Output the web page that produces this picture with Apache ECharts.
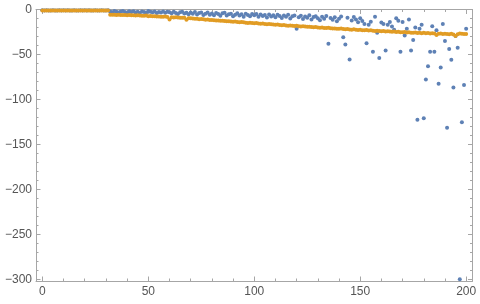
<!DOCTYPE html>
<html>
<head>
<meta charset="utf-8">
<script src="https://cdn.jsdelivr.net/npm/echarts@6/dist/echarts.min.js"></script>
<style>html,body{margin:0;padding:0;background:#fff}#c{width:480px;height:304px}</style>
</head>
<body>
<div id="c"></div>
<script>
const xStart = 0;
const blueY = [
-0.9,-1.0,-0.9,-1.0,-1.0,-0.9,-1.0,-1.0,-0.9,-1.0,
-0.9,-1.0,-0.9,-1.0,-1.0,-0.9,-1.0,-1.0,-0.9,-1.0,
-0.9,-1.0,-0.9,-1.0,-1.0,-0.9,-1.0,-1.0,-0.9,-1.0,
-1.0,-0.9,-2.1,-3.0,-1.8,-2.6,-3.4,-2.2,-1.6,-2.9,
-3.6,-2.0,-2.7,-1.9,-3.2,-2.4,-3.8,-2.1,-2.8,-3.5,
-1.7,-2.6,-3.1,-2.3,-4.0,-2.9,-3.3,-2.2,-3.7,-2.5,
-3.0,-4.2,-2.6,-3.8,-4.9,-3.1,-2.4,-4.4,-3.6,-5.2,
-3.3,-4.6,-2.9,-5.5,-4.0,-3.4,-6.1,-4.7,-3.2,-5.8,
-4.5,-6.3,-3.9,-5.1,-7.0,-4.3,-3.6,-6.6,-5.4,-4.8,
-7.4,-5.9,-4.1,-6.8,-5.2,-8.0,-4.6,-6.2,-7.6,-5.0,
-6.5,-4.9,-8.2,-5.7,-7.1,-6.0,-9.0,-5.5,-7.8,-6.4,
-8.5,-5.8,-7.3,-9.4,-6.7,-8.0,-5.9,-10.1,-7.5,-6.8,
-21.5,-8.7,-6.9,-10.6,-7.7,-9.2,-6.4,-11.0,-8.3,-7.4,
-9.8,-12.0,-8.0,-10.3,-7.2,-38.0,-9.5,-11.4,-8.6,-13.0,
-10.2,-7.9,-31.0,-39.0,-9.1,-55.5,-12.3,-8.4,-11.0,-14.2,
-9.6,-12.7,-16.0,-37.5,-17.0,-13.5,-47.0,-8.0,-26.0,-54.0,
-14.5,-16.0,-45.5,-17.0,-14.0,-19.0,-22.6,-9.6,-12.5,-47.0,
-14.0,-29.0,-21.5,-11.0,-45.5,-34.0,-20.0,-122.5,-21.5,-17.0,
-121.0,-78.0,-63.0,-47.0,-18.5,-47.0,-23.0,-82.5,-64.4,-16.0,
-35.0,-131.5,-44.0,-56.0,-86.7,-29.6,-42.5,-300.0,-125.5,-84.0,
-21.5
];
const orangeY = [
-1.0,-1.0,-1.1,-1.0,-1.0,-1.1,-1.0,-1.0,-1.0,-1.1,
-1.0,-1.1,-1.0,-1.0,-1.0,-1.1,-1.0,-1.0,-1.1,-1.0,
-1.0,-1.0,-1.1,-1.0,-1.0,-1.0,-1.1,-1.0,-1.0,-1.1,
-1.0,-1.1,-5.8,-5.9,-5.8,-6.0,-5.9,-6.1,-6.0,-6.2,
-6.3,-6.1,-6.4,-6.5,-6.6,-6.4,-6.8,-6.9,-7.0,-6.8,
-7.4,-7.3,-7.6,-7.5,-7.8,-7.7,-8.0,-8.1,-7.9,-8.3,
-11.0,-8.6,-8.8,-8.7,-9.0,-9.1,-9.3,-9.2,-11.5,-9.6,
-9.8,-10.0,-10.4,-10.2,-10.8,-10.6,-10.9,-11.4,-11.2,-11.6,
-11.7,-12.0,-12.3,-12.1,-12.6,-12.4,-12.9,-13.2,-13.0,-13.4,
-13.6,-13.3,-13.9,-14.2,-14.0,-14.3,-14.6,-14.9,-14.7,-15.0,
-15.3,-15.1,-15.6,-15.9,-15.7,-16.1,-16.4,-16.2,-16.5,-16.8,
-17.0,-16.8,-17.3,-17.5,-17.2,-17.8,-18.0,-17.7,-18.2,-18.4,
-18.1,-18.6,-18.9,-18.7,-19.0,-19.3,-19.1,-19.5,-19.8,-19.6,
-20.0,-20.2,-19.9,-20.5,-20.7,-20.4,-20.9,-21.2,-21.0,-21.3,
-21.5,-21.2,-21.8,-22.0,-21.7,-22.2,-22.4,-22.1,-22.6,-22.8,
-22.5,-23.0,-23.2,-22.9,-23.4,-23.1,-23.6,-23.8,-23.5,-24.0,
-24.2,-23.9,-24.4,-24.1,-24.6,-24.8,-24.5,-25.0,-24.7,-25.2,
-25.4,-25.1,-25.6,-25.3,-25.8,-26.0,-25.7,-26.1,-25.9,-26.3,
-26.0,-26.5,-26.2,-26.7,-26.4,-26.8,-28.3,-27.0,-26.7,-27.2,
-26.9,-27.3,-27.6,-27.1,-27.8,-29.4,-27.5,-26.6,-27.0,-27.3,
-27.2
];
const xMajor = [0, 50, 100, 150, 200];
const xMinor = [10,20,30,40,60,70,80,90,110,120,130,140,160,170,180,190];
const yMajor = [0, -50, -100, -150, -200, -250, -300];
const yMinor = [-10,-20,-30,-40,-60,-70,-80,-90,-110,-120,-130,-140,-160,-170,-180,-190,-210,-220,-230,-240,-260,-270,-280,-290];

const blueData = blueY.map((v, i) => [xStart + i, v]);
const orangeData = orangeY.map((v, i) => [xStart + i, v]);

const frameColor = '#a6a6a6';
const fmt = v => (v < 0 ? '\u2212' + Math.abs(v) : String(v));

function xAx(pos, ticks, len, showLine, labels) {
  return {
    type: 'value', position: pos, min: -3, max: 203,
    splitLine: {show: false},
    axisLine: {show: showLine, onZero: false, lineStyle: {color: frameColor, width: 1}},
    axisTick: {show: true, inside: true, length: len, customValues: ticks, lineStyle: {color: frameColor, width: 1}},
    axisLabel: labels ? {show: true, customValues: ticks, formatter: fmt, color: '#555', fontFamily: 'Liberation Sans, Arial, sans-serif', fontSize: 12, margin: 5} : {show: false}
  };
}
function yAx(pos, ticks, len, showLine, labels) {
  return {
    type: 'value', position: pos, min: -302, max: 0,
    splitLine: {show: false},
    axisLine: {show: showLine, onZero: false, lineStyle: {color: frameColor, width: 1}},
    axisTick: {show: true, inside: true, length: len, customValues: ticks, lineStyle: {color: frameColor, width: 1}},
    axisLabel: labels ? {show: true, customValues: ticks, formatter: fmt, color: '#555', fontFamily: 'Liberation Sans, Arial, sans-serif', fontSize: 12, margin: 4} : {show: false}
  };
}

const chart = echarts.init(document.getElementById('c'), null, {renderer: 'canvas'});
chart.setOption({
  animation: false,
  backgroundColor: '#fff',
  grid: {left: 36, right: 7.5, top: 9.5, bottom: 23, containLabel: false},
  xAxis: [
    xAx('bottom', xMajor, 4.5, true, true),
    xAx('bottom', xMinor, 2.5, false, false),
    xAx('top', xMajor, 4.5, true, false),
    xAx('top', xMinor, 2.5, false, false)
  ],
  yAxis: [
    yAx('left', yMajor, 4.5, true, true),
    yAx('left', yMinor, 2.5, false, false),
    yAx('right', yMajor, 4.5, true, false),
    yAx('right', yMinor, 2.5, false, false)
  ],
  series: [
    {type: 'scatter', data: blueData, symbol: 'circle', symbolSize: 4, itemStyle: {color: '#5e81b5', opacity: 1}, xAxisIndex: 0, yAxisIndex: 0},
    {type: 'scatter', data: orangeData, symbol: 'circle', symbolSize: 4, itemStyle: {color: '#e19c24', opacity: 1}, xAxisIndex: 0, yAxisIndex: 0}
  ]
});
</script>
</body>
</html>
